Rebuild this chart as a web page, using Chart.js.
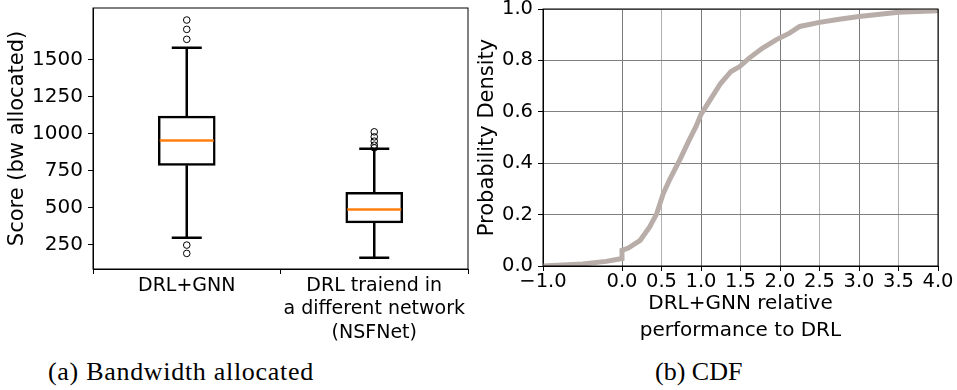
<!DOCTYPE html>
<html>
<head>
<meta charset="utf-8">
<script src="https://cdn.jsdelivr.net/npm/chart.js@4"></script>
<style>
  body { margin: 0; background: #fff; width: 957px; height: 390px; position: relative; overflow: hidden; }
  #boxWrap { position: absolute; left: 0; top: 0; width: 480px; height: 350px; }
  #cdfWrap { position: absolute; left: 470px; top: 0; width: 487px; height: 350px; }
  .caption { position: absolute; top: 359px; font-family: "Liberation Serif", serif; font-size: 26px; line-height: 1; color: #000; white-space: nowrap; }
</style>
</head>
<body>
<div id="boxWrap"><canvas id="boxChart" width="480" height="350"></canvas></div>
<div id="cdfWrap"><canvas id="cdfChart" width="487" height="350"></canvas></div>
<div class="caption" style="left:48px; letter-spacing:0.7px">(a) Bandwidth allocated</div>
<div class="caption" style="left:655px">(b) CDF</div>

<script>
// --- (a) box plot data ---
const boxPositions = [1, 2];
const boxLabels = [['DRL+GNN'], ['DRL traiend in', 'a different network', '(NSFNet)']];
const boxQ1 = [786, 399];
const boxQ3 = [1118, 604];
const boxMedian = [954, 489];
const whiskerLow = [298, 163];
const whiskerHigh = [1578, 898];
const outliersGnn = [1765, 1702, 1635, 249, 193];
const outliersNsf = [1012, 978, 949, 922, 904];
const scoreTicks = [250, 500, 750, 1000, 1250, 1500];

// --- (b) CDF data ---
const cdfX = [-1.0, -0.5, -0.2, 0.0, 0.0, 0.08, 0.23, 0.35, 0.44, 0.52, 0.6, 0.73, 0.85, 0.94, 1.0,
  1.13, 1.25, 1.38, 1.49, 1.61, 1.78, 1.95, 2.12, 2.25, 2.5, 2.75, 3.0, 3.5, 4.0];
const cdfY = [0.0, 0.008, 0.018, 0.029, 0.061, 0.07, 0.1, 0.152, 0.204, 0.28, 0.334, 0.412, 0.49, 0.545, 0.59,
  0.653, 0.711, 0.757, 0.776, 0.809, 0.848, 0.88, 0.906, 0.932, 0.948, 0.96, 0.971, 0.987, 0.993];
const cdfXTicks = [-1, 0, 0.5, 1, 1.5, 2, 2.5, 3, 3.5, 4];
const cdfYTicks = [0, 0.2, 0.4, 0.6, 0.8, 1.0];

Chart.defaults.font.family = "'DejaVu Sans'";
Chart.defaults.color = '#000';
Chart.defaults.animation = false;

// matplotlib-like spines around the plot area
const frame = {
  id: 'frame',
  afterDraw(chart) {
    const { ctx, chartArea: a } = chart;
    ctx.save();
    ctx.strokeStyle = '#000';
    ctx.lineWidth = 1;
    ctx.strokeRect(a.left, a.top, a.right - a.left, a.bottom - a.top);
    ctx.restore();
  }
};

// whiskers, caps and medians, placed through the chart scales
const boxParts = {
  id: 'boxParts',
  beforeDatasetsDraw(chart) {
    const { ctx, scales: { x, y } } = chart;
    ctx.save();
    ctx.strokeStyle = '#000';
    ctx.lineWidth = 2.5;
    boxPositions.forEach((p, i) => {
      const cx = x.getPixelForValue(p);
      const lo = y.getPixelForValue(whiskerLow[i]);
      const hi = y.getPixelForValue(whiskerHigh[i]);
      ctx.beginPath();
      ctx.moveTo(cx, lo);
      ctx.lineTo(cx, y.getPixelForValue(boxQ1[i]));
      ctx.moveTo(cx, y.getPixelForValue(boxQ3[i]));
      ctx.lineTo(cx, hi);
      ctx.moveTo(cx - 15, lo);
      ctx.lineTo(cx + 15, lo);
      ctx.moveTo(cx - 15, hi);
      ctx.lineTo(cx + 15, hi);
      ctx.stroke();
    });
    ctx.restore();
  },
  afterDatasetsDraw(chart) {
    const { ctx, scales: { x, y } } = chart;
    ctx.save();
    ctx.strokeStyle = '#ff7f0e';
    ctx.lineWidth = 2.5;
    boxPositions.forEach((p, i) => {
      const cx = x.getPixelForValue(p);
      const my = y.getPixelForValue(boxMedian[i]);
      ctx.beginPath();
      ctx.moveTo(cx - 27, my);
      ctx.lineTo(cx + 27, my);
      ctx.stroke();
    });
    ctx.restore();
  }
};

const noPad = s => { s.paddingTop = 0; s.paddingBottom = 0; s.paddingLeft = 0; s.paddingRight = 0; };

new Chart(document.getElementById('boxChart'), {
  type: 'bar',
  data: {
    datasets: [
      {
        type: 'scatter',
        data: [
          ...outliersGnn.map(v => ({ x: boxPositions[0], y: v })),
          ...outliersNsf.map(v => ({ x: boxPositions[1], y: v }))
        ],
        pointStyle: 'circle',
        pointRadius: 3.3,
        borderColor: '#000',
        borderWidth: 1,
        backgroundColor: 'rgba(0,0,0,0)',
        order: 0
      },
      {
        type: 'bar',
        data: boxPositions.map((p, i) => ({ x: p, y: [boxQ1[i], boxQ3[i]] })),
        backgroundColor: '#fff',
        borderColor: '#000',
        borderWidth: 2.5,
        borderSkipped: false,
        barThickness: 57,
        order: 1
      }
    ]
  },
  options: {
    responsive: false,
    layout: { padding: { left: 0, top: 8, right: 12, bottom: 0 } },
    plugins: { legend: { display: false }, tooltip: { enabled: false } },
    scales: {
      x: {
        type: 'linear',
        min: 0.5,
        max: 2.5,
        offset: false,
        afterBuildTicks: s => { s.ticks = boxPositions.map(v => ({ value: v })); },
        afterFit: s => { s.height = 81; noPad(s); },
        grid: { drawOnChartArea: false, drawTicks: true, tickLength: 5, tickColor: '#000' },
        border: { display: true, color: '#000' },
        ticks: {
          font: { size: 19, lineHeight: 1.24 },
          padding: 0,
          maxRotation: 0,
          callback: v => boxLabels[boxPositions.indexOf(v)]
        }
      },
      y: {
        min: 88,
        max: 1846,
        afterBuildTicks: s => { s.ticks = scoreTicks.map(v => ({ value: v })); },
        afterFit: s => { s.width = 93; noPad(s); },
        grid: { drawOnChartArea: false, drawTicks: true, tickLength: 5, tickColor: '#000' },
        border: { display: true, color: '#000' },
        ticks: { font: { size: 20, lineHeight: 1 }, padding: 5, callback: v => String(v) },
        title: { display: true, text: 'Score (bw allocated)', font: { size: 21, lineHeight: 1.2 }, padding: { top: 5, bottom: 0 } }
      }
    }
  },
  plugins: [boxParts, frame]
});

new Chart(document.getElementById('cdfChart'), {
  type: 'line',
  data: {
    datasets: [{
      data: cdfX.map((v, i) => ({ x: v, y: cdfY[i] })),
      borderColor: '#b8ada8',
      borderWidth: 5,
      pointRadius: 0,
      tension: 0,
      fill: false,
      clip: 0
    }]
  },
  options: {
    responsive: false,
    layout: { padding: { left: 0, top: 9, right: 19, bottom: 0 } },
    plugins: { legend: { display: false }, tooltip: { enabled: false } },
    scales: {
      x: {
        type: 'linear',
        min: -1,
        max: 4,
        afterBuildTicks: s => { s.ticks = cdfXTicks.map(v => ({ value: v })); },
        afterFit: s => { s.height = 84; noPad(s); },
        grid: {
          color: c => (Number.isInteger(c.tick.value) ? '#7a7a7a' : '#b0b0b0'),
          lineWidth: 1,
          drawTicks: true,
          tickLength: 5,
          tickColor: '#000'
        },
        border: { display: true, color: '#000' },
        ticks: {
          font: { size: 19.5, lineHeight: 1.1 },
          padding: 0,
          maxRotation: 0,
          autoSkip: false,
          callback: v => (v < 0 ? '\u2212' + Math.abs(v).toFixed(1) : v.toFixed(1))
        },
        title: {
          display: true,
          text: ['DRL+GNN relative', 'performance to DRL'],
          font: { size: 20, lineHeight: 1.35 },
          padding: { top: 0, bottom: 6 }
        }
      },
      y: {
        min: 0,
        max: 1,
        afterBuildTicks: s => { s.ticks = cdfYTicks.map(v => ({ value: v })); },
        afterFit: s => { s.width = 73; noPad(s); },
        grid: { color: '#808080', lineWidth: 1, drawTicks: true, tickLength: 5, tickColor: '#000' },
        border: { display: true, color: '#000' },
        ticks: { font: { size: 19.5, lineHeight: 1 }, padding: 5, callback: v => v.toFixed(1) },
        title: { display: true, text: 'Probability Density', font: { size: 21, lineHeight: 1.2 }, padding: { top: 5, bottom: 0 } }
      }
    }
  },
  plugins: [frame]
});
</script>
</body>
</html>
